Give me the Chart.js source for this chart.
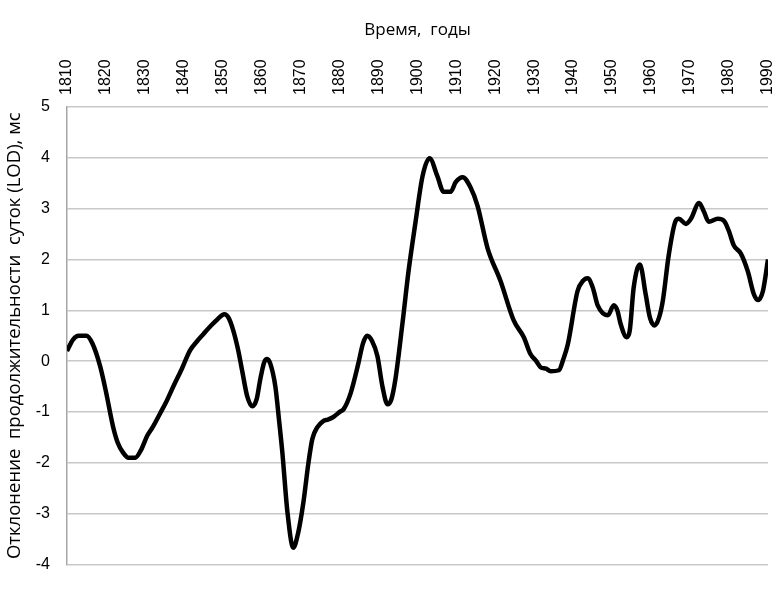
<!DOCTYPE html>
<html>
<head>
<meta charset="utf-8">
<script src="https://cdn.jsdelivr.net/npm/chart.js@4"></script>
<style>
  html, body { margin: 0; padding: 0; background: #fff; }
  #wrap { width: 782px; height: 591px; }
</style>
</head>
<body>
<div id="wrap"><canvas id="lodChart"></canvas></div>
<script>
// values
var years = [1810, 1811.5, 1813, 1815, 1816.5, 1818.5, 1820, 1821.8, 1823, 1824.4,
  1825.8, 1827.5, 1829, 1830.6, 1832, 1833.9, 1835.5, 1837.3, 1839.5, 1841.6,
  1843.5, 1845, 1847, 1848.6, 1850.4, 1851.5, 1852.7, 1854, 1855, 1856.3,
  1857.6, 1858.7, 1859.6, 1860.6, 1861.4, 1862.2, 1863.5, 1864.5, 1865.3, 1866.6,
  1868.1, 1869.3, 1870.7, 1872, 1873, 1874.3, 1875.8, 1877, 1878.4, 1880.2,
  1881, 1882.8, 1884.8, 1886, 1887.1, 1888.3, 1889.7, 1891, 1892.3, 1893.3,
  1894.3, 1896.1, 1897.7, 1899.5, 1901.3, 1903.1, 1905.1, 1906.7, 1908.5, 1909.8,
  1911.6, 1913.6, 1915.4, 1918, 1921.3, 1924.7, 1927.3, 1929, 1930.5, 1931.6,
  1933, 1934.2, 1936.3, 1937.5, 1938.6, 1941.1, 1942.5, 1943.7, 1945, 1946.3,
  1948.9, 1950.4, 1951.3, 1952.2, 1953.7, 1954.5, 1955.5, 1957.1, 1958.6, 1959.7,
  1960.9, 1962, 1963, 1964.5, 1966.3, 1967.1, 1968.9, 1970.2, 1972.3, 1973.5,
  1974.8, 1977.1, 1978.7, 1980, 1981.2, 1983, 1984.8, 1986.4, 1987.4, 1988.7,
  1990];
var lod = [0.2, 0.42, 0.5, 0.5, 0.35, -0.1, -0.6, -1.28, -1.6, -1.8,
  -1.9, -1.9, -1.75, -1.47, -1.3, -1.03, -0.8, -0.5, -0.15, 0.21,
  0.4, 0.53, 0.7, 0.82, 0.92, 0.85, 0.6, 0.2, -0.2, -0.7,
  -0.89, -0.75, -0.37, -0.03, 0.04, -0.05, -0.5, -1.2, -1.8, -2.97,
  -3.67, -3.4, -2.78, -2.0, -1.53, -1.3, -1.18, -1.15, -1.1, -0.99,
  -0.95, -0.64, -0.05, 0.35, 0.5, 0.4, 0.1, -0.5, -0.85, -0.75,
  -0.37, 0.72, 1.77, 2.74, 3.64, 3.99, 3.64, 3.33, 3.33, 3.52,
  3.62, 3.42, 3.06, 2.22, 1.58, 0.8, 0.47, 0.14, 0.0, -0.12,
  -0.15, -0.2, -0.18, 0.05, 0.33, 1.38, 1.58, 1.63, 1.45, 1.09,
  0.9, 1.1, 1.0, 0.72, 0.47, 0.6, 1.44, 1.9, 1.31, 0.85,
  0.7, 0.85, 1.19, 2.08, 2.76, 2.8, 2.7, 2.8, 3.11, 2.95,
  2.74, 2.8, 2.76, 2.55, 2.28, 2.12, 1.77, 1.31, 1.2, 1.38,
  2.0];
var yearTicks = [1810, 1820, 1830, 1840, 1850, 1860, 1870, 1880, 1890, 1900,
  1910, 1920, 1930, 1940, 1950, 1960, 1970, 1980, 1990];
var xTitle = 'Время,  годы';
var yTitle = 'Отклонение  продолжительности  суток (LOD), мс';

var points = years.map(function(y, i) { return { x: y, y: lod[i] }; });
var tickFont = 'Liberation Sans';
var titleFont = 'Open Sans';

var ctx = document.getElementById('lodChart').getContext('2d');
var lodChart = new Chart(ctx, {
  type: 'line',
  data: {
    datasets: [{
      data: points,
      borderColor: '#000',
      borderWidth: 4.5,
      pointRadius: 0,
      fill: false,
      cubicInterpolationMode: 'monotone'
    }]
  },
  options: {
    responsive: true,
    maintainAspectRatio: false,
    animation: false,
    layout: { padding: { left: 0, right: 14, top: 0, bottom: 21 } },
    plugins: { legend: { display: false }, tooltip: { enabled: false } },
    scales: {
      x: {
        type: 'linear',
        position: 'top',
        min: 1810,
        max: 1990,
        afterBuildTicks: function(axis) {
          axis.ticks = yearTicks.map(function(v) { return { value: v }; });
        },
        afterFit: function(axis) { axis.height = 107; },
        grid: { display: false },
        border: { display: false },
        ticks: {
          autoSkip: false,
          minRotation: 90,
          maxRotation: 90,
          padding: 4,
          labelOffset: 19,
          color: '#000',
          font: { family: tickFont, size: 16 },
          callback: function(v) { return String(v); }
        },
        title: {
          display: true,
          text: xTitle,
          color: '#000',
          font: { family: titleFont, size: 17 },
          padding: { top: 20, bottom: 0 }
        }
      },
      y: {
        min: -4,
        max: 5,
        afterFit: function(axis) { axis.width = 67; },
        grid: { color: '#c8c8c8', lineWidth: 1.5, drawTicks: false },
        border: { display: true, color: '#a6a6a6', width: 1.5 },
        ticks: {
          stepSize: 1,
          padding: 17,
          color: '#000',
          font: { family: tickFont, size: 16 }
        },
        title: {
          display: true,
          text: yTitle,
          color: '#000',
          font: { family: titleFont, size: 18.5 },
          padding: { top: 4, bottom: 0 }
        }
      }
    }
  }
});
</script>
</body>
</html>
